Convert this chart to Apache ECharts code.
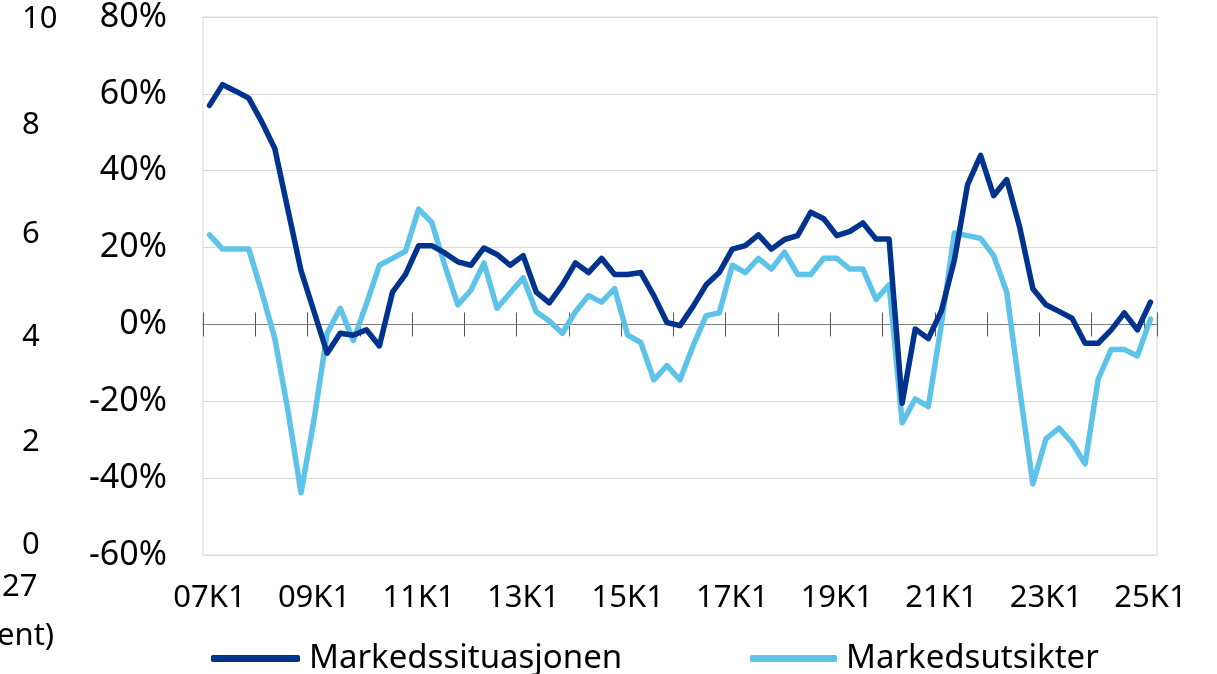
<!DOCTYPE html>
<html>
<head>
<meta charset="utf-8">
<script src="https://cdn.jsdelivr.net/npm/echarts@6/dist/echarts.min.js"></script>
<style>
  html, body { margin: 0; padding: 0; background: #ffffff; }
  #chart { width: 1217px; height: 674px; }
</style>
</head>
<body>
<div id="chart"></div>
<script>
// Quarters 07K1 .. 25K1
const quarters = [];
for (let y = 7; y <= 25; y++) {
  for (let q = 1; q <= 4; q++) {
    if (y === 25 && q > 1) break;
    quarters.push(String(y).padStart(2, '0') + 'K' + q);
  }
}

// Net share (%) by quarter
const markedssituasjonen = [
  57.0, 62.4, 60.7, 58.9, 52.7, 45.7, 29.8, 14.0,
  3.3, -7.5, -2.3, -2.8, -1.4, -5.6, 8.4, 13.0,
  20.5, 20.5, 18.6, 16.3, 15.4, 19.9, 18.2, 15.4,
  17.9, 8.4, 5.6, 10.3, 16.0, 13.5, 17.2, 13.0,
  13.0, 13.5, 7.5, 0.5, -0.3, 4.7, 10.3, 13.5,
  19.6, 20.5, 23.3, 19.6, 22.1, 23.1, 29.2, 27.5,
  23.1, 24.2, 26.4, 22.2, 22.2, -20.5, -1.2, -3.7,
  3.5, 16.8, 36.3, 44.0, 33.5, 37.7, 25.2, 9.3,
  5.1, 3.4, 1.6, -4.9, -4.9, -1.4, 3.0, -1.4,
  5.8
];
const markedsutsikter = [
  23.3, 19.6, 19.6, 19.6, 8.4, -3.7, -22.4, -43.8,
  -24.7, -2.3, 4.2, -4.2, 5.3, 15.4, 17.2, 19.1,
  30.0, 26.6, 15.4, 5.1, 8.9, 16.0, 4.2, 8.2,
  12.1, 3.3, 0.9, -2.3, 3.3, 7.5, 5.8, 9.3,
  -2.8, -4.7, -14.4, -10.7, -14.4, -5.6, 2.3, 3.0,
  15.4, 13.5, 17.2, 14.4, 18.8, 13.0, 13.0, 17.2,
  17.2, 14.4, 14.4, 6.5, 10.3, -25.6, -19.4, -21.4,
  0.0, 23.8, 23.1, 22.4, 17.9, 8.4, -17.1, -41.5,
  -29.8, -27.0, -30.8, -36.3, -14.2, -6.5, -6.5, -8.2,
  1.4
];

// Axis of the neighbouring panel, partly visible at the left edge
const sideTicks = ['10', '8', '6', '4', '2', '0'];
const sideTickY = [22, 128, 237, 340, 445, 548];

const DARK = '#00338d';
const LIGHT = '#5ec3e8';
const BASE = '"Noto Sans", "Open Sans", sans-serif';

const chart = echarts.init(document.getElementById('chart'), null, { renderer: 'canvas' });

const sideTexts = sideTicks.map((t, i) => ({
  type: 'text', left: 22, top: sideTickY[i] - 18,
  style: { text: t, font: '31px ' + BASE, fill: '#000' }
}));

// Two tick axes sit on the zero line: one with ticks pointing down, one up,
// so the tick marks cross the axis line.
const tickAxisBase = {
  type: 'category', data: quarters, boundaryGap: true, position: 'bottom',
  axisLabel: { show: false },
  splitLine: { show: false }
};

chart.setOption({
  animation: false,
  grid: {
    left: 203, right: 60, top: 17, bottom: 119,
    show: true, borderColor: '#d9d9d9', borderWidth: 1, containLabel: false
  },
  xAxis: [
    Object.assign({}, tickAxisBase, {
      axisLine: { show: true, onZero: true, onZeroAxisIndex: 0, lineStyle: { color: '#7f7f7f', width: 1 } },
      axisTick: { show: true, inside: false, length: 12, interval: 3, lineStyle: { color: '#595959' } }
    }),
    Object.assign({}, tickAxisBase, {
      axisLine: { show: true, onZero: true, onZeroAxisIndex: 1, lineStyle: { color: '#7f7f7f', width: 1 } },
      axisTick: { show: true, inside: true, length: 12, interval: 3, lineStyle: { color: '#595959' } }
    }),
    {
      type: 'category', data: quarters, boundaryGap: true, position: 'bottom',
      axisLine: { show: false, onZero: false },
      axisTick: { show: false },
      axisLabel: { show: true, interval: 7, margin: 28, color: '#000', fontSize: 31, fontFamily: BASE },
      splitLine: { show: false }
    }
  ],
  yAxis: [
    {
      type: 'value', min: -60, max: 80, interval: 20,
      axisLine: { show: false },
      axisTick: { show: false },
      axisLabel: { formatter: '{value}%', color: '#000', fontSize: 34, fontFamily: BASE, margin: 36 },
      splitLine: { show: true, lineStyle: { color: '#d9d9d9', width: 1 } }
    },
    {
      type: 'value', min: -60, max: 80, interval: 20, position: 'left',
      axisLine: { show: false }, axisTick: { show: false },
      axisLabel: { show: false }, splitLine: { show: false }
    }
  ],
  legend: [
    {
      data: ['Markedssituasjonen'], left: 206, top: 637,
      itemWidth: 89, itemHeight: 7, itemGap: 0,
      icon: 'roundRect',
      textStyle: { color: '#000', fontSize: 33, fontFamily: BASE, padding: [0, 0, 0, 4] }
    },
    {
      data: ['Markedsutsikter'], left: 745, top: 637,
      itemWidth: 87, itemHeight: 7, itemGap: 0,
      icon: 'roundRect',
      textStyle: { color: '#000', fontSize: 33, fontFamily: BASE, padding: [0, 0, 0, 4] }
    }
  ],
  graphic: sideTexts.concat([
    { type: 'text', left: 2, top: 572, style: { text: '27', font: '31px ' + BASE, fill: '#000' } },
    { type: 'text', left: -3, top: 621, style: { text: 'ent)', font: '31px ' + BASE, fill: '#000' } }
  ]),
  series: [
    {
      name: 'Markedssituasjonen', type: 'line', data: markedssituasjonen,
      xAxisIndex: 0, yAxisIndex: 0, showSymbol: false, symbol: 'none',
      lineStyle: { color: DARK, width: 5.5, cap: 'round', join: 'round' },
      itemStyle: { color: DARK }, z: 3
    },
    {
      name: 'Markedsutsikter', type: 'line', data: markedsutsikter,
      xAxisIndex: 0, yAxisIndex: 0, showSymbol: false, symbol: 'none',
      lineStyle: { color: LIGHT, width: 5.5, cap: 'round', join: 'round' },
      itemStyle: { color: LIGHT }, z: 2
    }
  ]
});
</script>
</body>
</html>
